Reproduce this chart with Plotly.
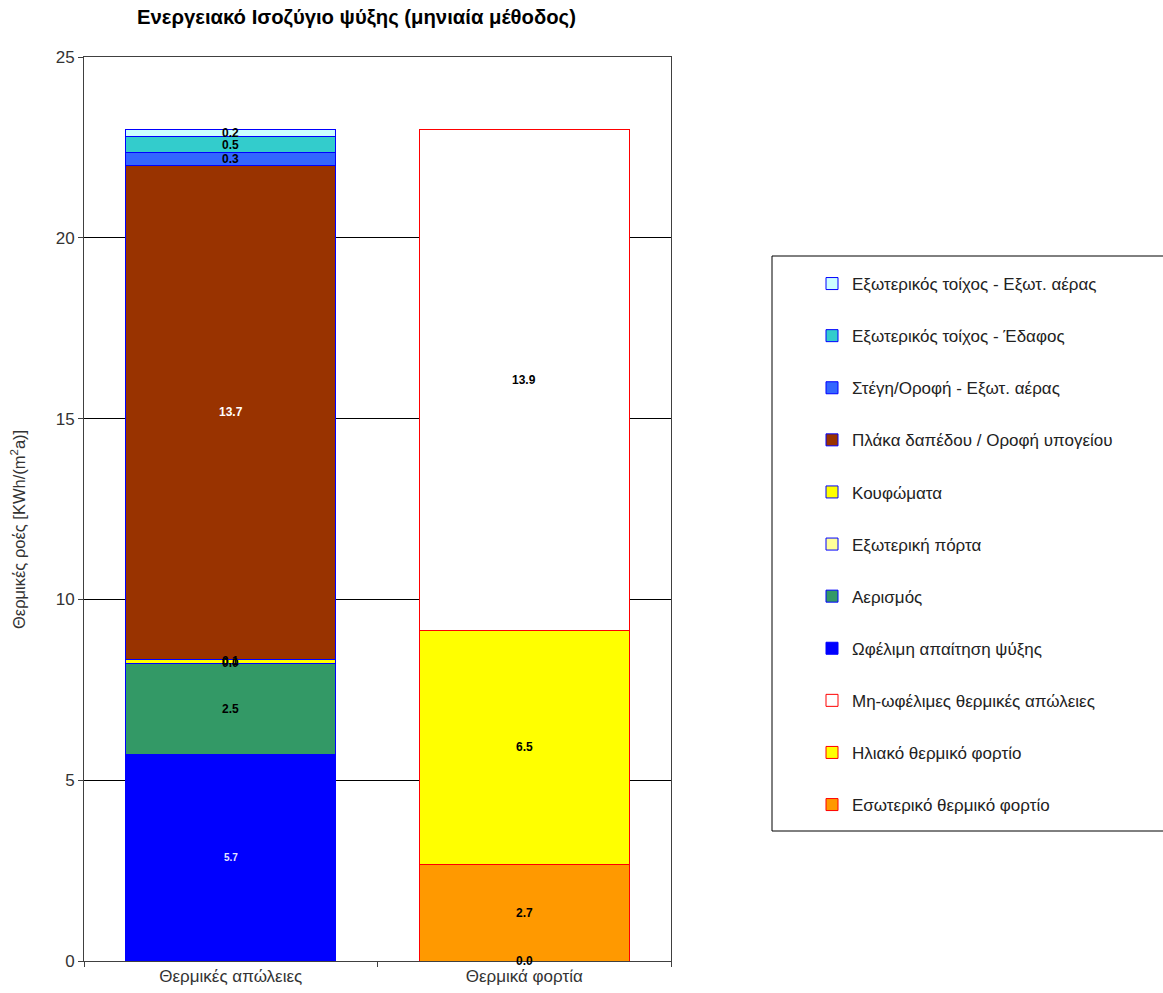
import plotly.graph_objects as go

# Categories on the x axis
categories = ["Θερμικές απώλειες", "Θερμικά φορτία"]

# Series, listed from the bottom of each stack upwards
series_names = [
    "Ωφέλιμη απαίτηση ψύξης",
    "Εσωτερικό θερμικό φορτίο",
    "Ηλιακό θερμικό φορτίο",
    "Μη-ωφέλιμες θερμικές απώλειες",
    "Αερισμός",
    "Εξωτερική πόρτα",
    "Κουφώματα",
    "Πλάκα δαπέδου / Οροφή υπογείου",
    "Στέγη/Οροφή - Εξωτ. αέρας",
    "Εξωτερικός τοίχος - Έδαφος",
    "Εξωτερικός τοίχος - Εξωτ. αέρας",
]
loss_values = [5.72, None, None, None, 2.52, 0.0, 0.1, 13.67, 0.34, 0.46, 0.19]
load_values = [0.0, 2.68, 6.45, 13.87, None, None, None, None, None, None, None]

fill_colors = ["#0000FF", "#FF9900", "#FFFF00", "#FFFFFF", "#339966", "#FFFF99",
               "#FFFF00", "#993300", "#3366FF", "#33CCCC", "#CCFFFF"]
edge_colors = ["#0000FF", "#FF0000", "#FF0000", "#FF0000", "#0000FF", "#0000FF",
               "#0000FF", "#0000FF", "#0000FF", "#0000FF", "#0000FF"]
label_colors = ["#E6E6FF", "#000000", "#000000", "#000000", "#000000", "#000000",
                "#000000", "#FFFFFF", "#000000", "#000000", "#000000"]

# Legend order, top to bottom
legend_order = [
    "Εξωτερικός τοίχος - Εξωτ. αέρας",
    "Εξωτερικός τοίχος - Έδαφος",
    "Στέγη/Οροφή - Εξωτ. αέρας",
    "Πλάκα δαπέδου / Οροφή υπογείου",
    "Κουφώματα",
    "Εξωτερική πόρτα",
    "Αερισμός",
    "Ωφέλιμη απαίτηση ψύξης",
    "Μη-ωφέλιμες θερμικές απώλειες",
    "Ηλιακό θερμικό φορτίο",
    "Εσωτερικό θερμικό φορτίο",
]

FONT = "Liberation Sans, Arial, sans-serif"
W, H = 1163, 993
L, R, T, B = 84, 492, 57, 32
plot_w = W - L - R
plot_h = H - T - B


def px_x(x):
    return (x - L) / plot_w


def px_y(y):
    return (H - B - y) / plot_h


fig = go.Figure()
annotations = []
base = [0.0, 0.0]
for i, name in enumerate(series_names):
    vals = [loss_values[i], load_values[i]]
    xs = [categories[j] for j, v in enumerate(vals) if v is not None]
    ys = [v for v in vals if v is not None]
    fig.add_trace(go.Bar(
        x=xs,
        y=ys,
        name=name,
        marker=dict(color=fill_colors[i], line=dict(color=edge_colors[i], width=1)),
        legendrank=legend_order.index(name) + 1,
        legendgroup=name,
        hoverinfo="name+y",
    ))
    for j, v in enumerate(vals):
        if v is None:
            continue
        # the value label on the blue cooling-demand segment is smaller and pale
        small = i == 0 and j == 0
        annotations.append(dict(
            x=categories[j], y=base[j] + v / 2, xref="x", yref="y",
            text=f"<b>{v:.1f}</b>", showarrow=False,
            font=dict(family=FONT, size=10 if small else 12,
                      color=label_colors[i] if j == 0 else "#000000"),
        ))
        base[j] += v

# Chart title
annotations.append(dict(
    x=px_x(356), y=px_y(18), xref="paper", yref="paper",
    text="<b>Ενεργειακό Ισοζύγιο ψύξης (μηνιαία μέθοδος)</b>",
    showarrow=False, xanchor="center", yanchor="middle",
    font=dict(family=FONT, size=20.3, color="#000000"),
))

# Y axis title
annotations.append(dict(
    x=px_x(18), y=px_y(530), xref="paper", yref="paper",
    text="Θερμικές ροές [KWh/(m<sup>2</sup>a)]", textangle=-90,
    showarrow=False, xanchor="center", yanchor="middle",
    font=dict(family=FONT, size=16.5, color="#333333"),
))

fig.update_layout(
    width=W, height=H,
    margin=dict(l=L, r=R, t=T, b=B, autoexpand=False),
    paper_bgcolor="#FFFFFF", plot_bgcolor="#FFFFFF",
    barmode="stack", bargap=0.285,
    font=dict(family=FONT, size=17, color="#333333"),
    annotations=annotations,
    showlegend=True,
    legend=dict(
        x=px_x(812), y=px_y(266), xanchor="left", yanchor="top",
        xref="paper", yref="paper",
        bgcolor="rgba(0,0,0,0)", borderwidth=0,
        traceorder="grouped", tracegroupgap=27,
        font=dict(family=FONT, size=17, color="#222222"),
    ),
    shapes=[dict(
        type="rect", xref="paper", yref="paper",
        x0=px_x(772), x1=px_x(1170), y0=px_y(831), y1=px_y(256),
        line=dict(color="#000000", width=1), fillcolor="rgba(0,0,0,0)",
    )],
)

fig.update_xaxes(
    type="category", categoryorder="array", categoryarray=categories,
    range=[-0.5, 1.5], automargin=False,
    showline=True, linecolor="#404040", linewidth=1, mirror=True,
    ticks="outside", ticklen=5, tickcolor="#404040", tickson="boundaries",
    showgrid=False, tickfont=dict(family=FONT, size=17, color="#333333"),
)
fig.update_yaxes(
    range=[0, 25], dtick=5, tick0=0, automargin=False,
    showline=True, linecolor="#404040", linewidth=1, mirror=True,
    ticks="outside", ticklen=5, tickcolor="#404040",
    showgrid=True, gridcolor="#000000", gridwidth=1, zeroline=False,
    tickfont=dict(family=FONT, size=17, color="#333333"),
)

fig.write_html("out.html")
